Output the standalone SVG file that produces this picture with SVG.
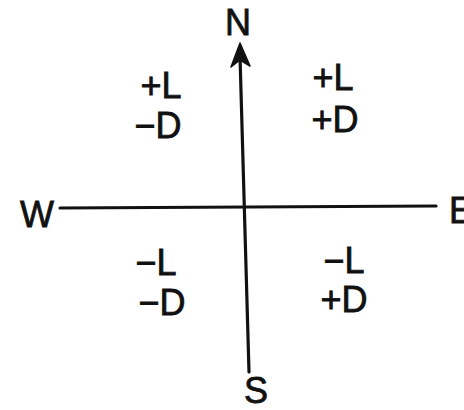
<svg xmlns="http://www.w3.org/2000/svg" width="464" height="410" viewBox="0 0 464 410">
<style>
text{font-family:"Liberation Sans",Arial,sans-serif;font-size:36px;fill:#111;stroke:#111;stroke-width:0.8}
.ax{stroke:#111;stroke-width:3.2;fill:none;stroke-linecap:round}
</style>
<rect width="464" height="410" fill="#fff"/>
<g id="connectors">
<line class="ax" x1="60" y1="208" x2="436" y2="206"/>
<line class="ax" x1="249" y1="372" x2="240" y2="56"/>
<path d="M240,43 L250,66 L240,60 L231,67 Z" fill="#111" stroke="#111" stroke-width="1.5" stroke-linejoin="round"/>
</g>
<g id="N"><text x="238" y="35" text-anchor="middle">N</text></g>
<g id="S"><text x="256" y="403" text-anchor="middle">S</text></g>
<g id="W"><text x="37" y="227" text-anchor="middle">W</text></g>
<g id="E"><text x="449" y="223">E</text></g>
<g id="NW"><text x="161" y="98" text-anchor="middle">+L</text><text x="158" y="138" text-anchor="middle">−D</text></g>
<g id="NE"><text x="333" y="90" text-anchor="middle">+L</text><text x="335" y="132" text-anchor="middle">+D</text></g>
<g id="SW"><text x="156" y="275" text-anchor="middle">−L</text><text x="162" y="315" text-anchor="middle">−D</text></g>
<g id="SE"><text x="344" y="273" text-anchor="middle">−L</text><text x="344" y="312" text-anchor="middle">+D</text></g>
</svg>
